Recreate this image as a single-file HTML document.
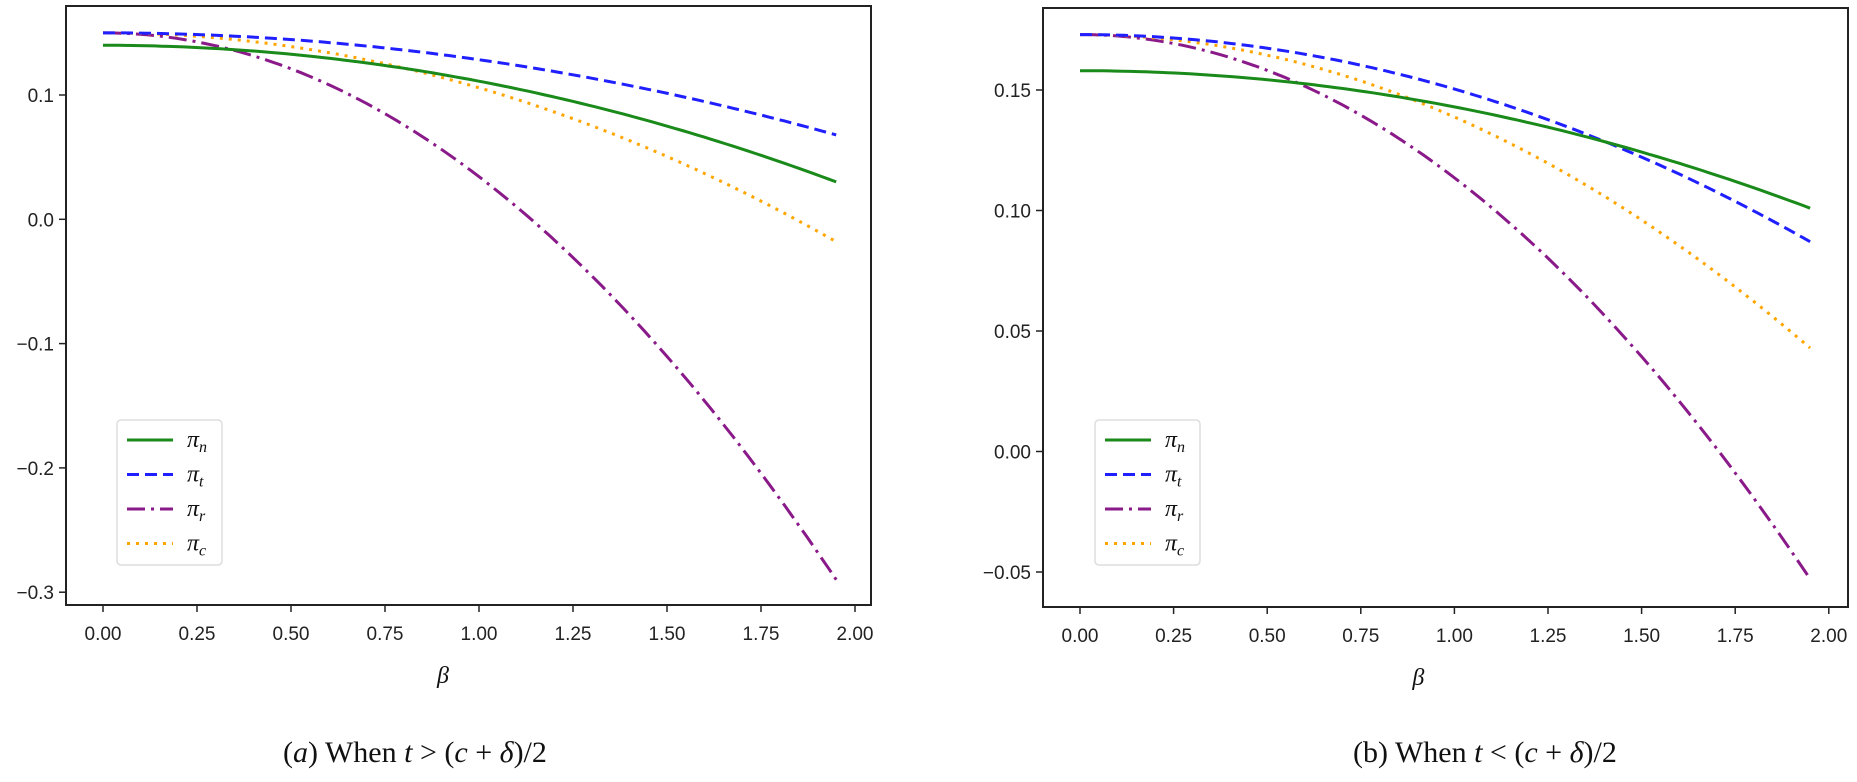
<!DOCTYPE html>
<html><head><meta charset="utf-8">
<style>
html,body{margin:0;padding:0;background:#fff;}
svg{display:block;}
.tk{font-family:"Liberation Sans","DejaVu Sans",sans-serif;font-size:19px;fill:#222;}
.cap{font-family:"Liberation Serif",serif;font-size:30px;fill:#111;}
.lg{font-family:"Liberation Serif",serif;font-style:italic;font-size:24px;fill:#111;}
.lg tspan.s{font-size:16px;}
</style></head><body>
<svg id="s" width="1857" height="782" viewBox="0 0 1857 782" xmlns="http://www.w3.org/2000/svg">
<g id="g"></g>
</svg>
<script>
const NS="http://www.w3.org/2000/svg";
const g=document.getElementById('g');
function el(t,a,txt){const e=document.createElementNS(NS,t);for(const k in a)e.setAttribute(k,a[k]);if(txt!==undefined)e.textContent=txt;g.appendChild(e);return e;}
const styles={
 n:{stroke:'#1a8a1a',dash:''},
 t:{stroke:'#1f1fff',dash:'12,6'},
 r:{stroke:'#8a1a8a',dash:'18,6,3,6'},
 c:{stroke:'#ffa500',dash:'3,6'}
};
function panel(P){
 const {L,R,T,B,x0,xs,yv,ys,yticks,ydec,curves,leg,caption,capx}=P;
 const X=v=>x0+v*xs, Y=v=>yv[1]+(yv[0]-v)*ys;
 for(const k of ['r','c','t','n']){
  const [a,b]=curves[k];let d='';
  for(let i=0;i<=100;i++){const x=1.95*i/100;d+=(i?'L':'M')+X(x).toFixed(1)+','+Y(a-b*x*x).toFixed(1);}
  el('path',{d,fill:'none',stroke:styles[k].stroke,'stroke-width':3,'stroke-dasharray':styles[k].dash});
 }
 el('rect',{x:L,y:T,width:R-L,height:B-T,fill:'none',stroke:'#222','stroke-width':2});
 for(let i=0;i<=8;i++){const v=i*0.25,x=X(v);
  el('line',{x1:x,y1:B,x2:x,y2:B+7,stroke:'#222','stroke-width':1.5});
  el('text',{x:x,y:B+35,'text-anchor':'middle',class:'tk'},v.toFixed(2));}
 for(const v of yticks){const y=Y(v);
  el('line',{x1:L-7,y1:y,x2:L,y2:y,stroke:'#222','stroke-width':1.5});
  el('text',{x:L-12,y:y+7,'text-anchor':'end',class:'tk'},(v<0?'\u2212':'')+Math.abs(v).toFixed(ydec));}
 el('text',{x:X(1.0)-36,y:B+78,'text-anchor':'middle',class:'lg','font-size':26},'β');
 // legend
 el('rect',{x:leg.x,y:leg.y,width:105,height:145,rx:4,fill:'#fff',stroke:'#ddd','stroke-width':1.5});
 const ks=['n','t','r','c'],sub=['n','t','r','c'];
 ks.forEach((k,i)=>{const y=leg.y+20+i*34.5;
  el('line',{x1:leg.x+10,y1:y,x2:leg.x+56,y2:y,stroke:styles[k].stroke,'stroke-width':3,'stroke-dasharray':styles[k].dash});
  const t=el('text',{x:leg.x+70,y:y+7,class:'lg'});
  t.innerHTML='π<tspan class="s" dy="5">'+sub[i]+'</tspan>';
 });
 const c=el('text',{x:capx,y:762,class:'cap'});
 c.innerHTML=caption;
}
panel({L:66,R:871,T:6,B:605,x0:103,xs:376,yv:[0.1,95],ys:1243,yticks:[0.1,0,-0.1,-0.2,-0.3],ydec:1,
 curves:{n:[0.14,0.0289],t:[0.15,0.0216],r:[0.15,0.1157],c:[0.15,0.0442]},
 leg:{x:117,y:420},caption:'(<tspan font-style="italic">a</tspan>) When <tspan font-style="italic">t</tspan> &gt; (<tspan font-style="italic">c</tspan> + <tspan font-style="italic">δ</tspan>)/2',capx:283});
panel({L:1043,R:1848,T:8,B:607,x0:1080,xs:374.4,yv:[0.15,90],ys:2410,yticks:[0.15,0.1,0.05,0,-0.05],ydec:2,
 curves:{n:[0.158,0.0150],t:[0.173,0.0226],r:[0.173,0.0594],c:[0.173,0.0342]},
 leg:{x:1095,y:420},caption:'(b) When <tspan font-style="italic">t</tspan> &lt; (<tspan font-style="italic">c</tspan> + <tspan font-style="italic">δ</tspan>)/2',capx:1353});
</script>
</body></html>
